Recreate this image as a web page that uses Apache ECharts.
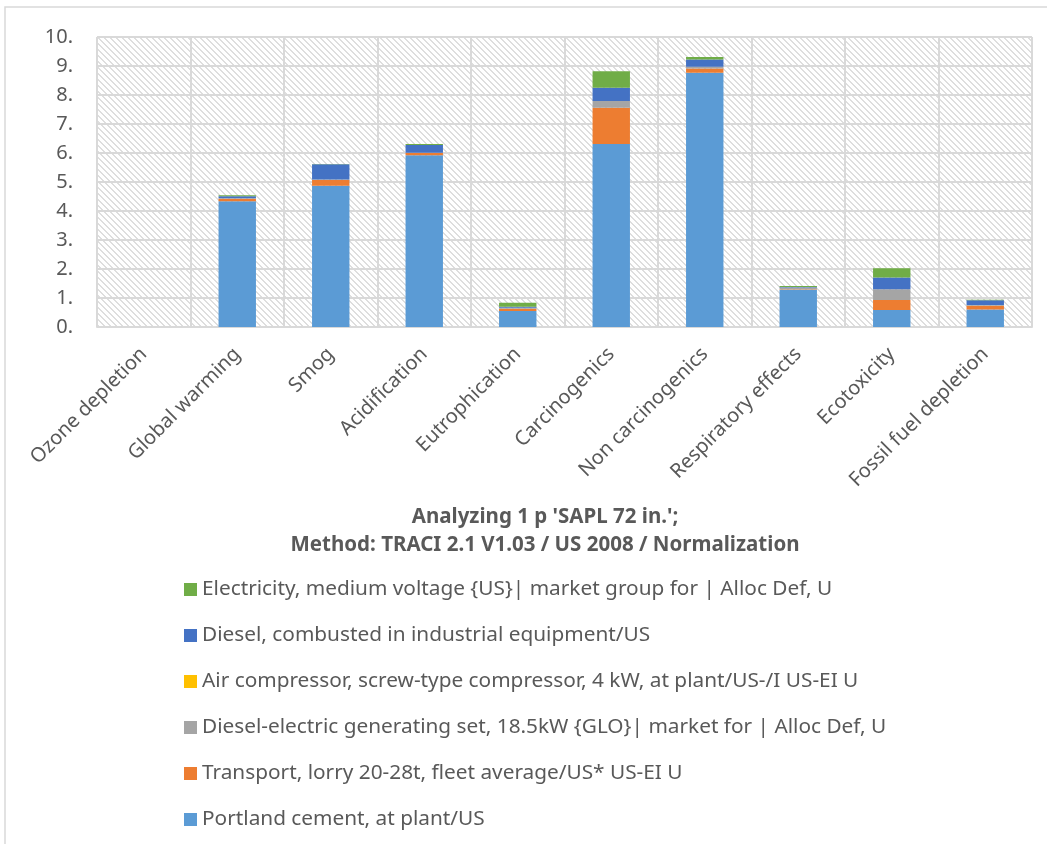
<!DOCTYPE html>
<html>
<head>
<meta charset="utf-8">
<script src="https://cdn.jsdelivr.net/npm/echarts@6/dist/echarts.min.js"></script>
<style>
  html, body { margin: 0; padding: 0; background: #fff; }
  #chart { width: 1047px; height: 844px; }
</style>
</head>
<body>
<div id="chart"></div>
<script>
// Impact categories (x axis)
const categories = [
  'Ozone depletion', 'Global warming', 'Smog', 'Acidification', 'Eutrophication',
  'Carcinogenics', 'Non carcinogenics', 'Respiratory effects', 'Ecotoxicity', 'Fossil fuel depletion'
];

// Normalized contributions per process, stacked bottom to top
const portlandCement   = [0.002, 4.34, 4.87, 5.92, 0.55, 6.31, 8.77, 1.28, 0.59, 0.60];
const transportLorry   = [0, 0.08, 0.20, 0.08, 0.08, 1.25, 0.14, 0.01, 0.34, 0.13];
const dieselGenSet     = [0, 0.02, 0.02, 0.01, 0.03, 0.23, 0.06, 0.07, 0.37, 0.03];
const airCompressor    = [0, 0, 0, 0, 0, 0, 0, 0, 0, 0];
const dieselCombusted  = [0, 0.07, 0.52, 0.27, 0.04, 0.46, 0.25, 0.02, 0.41, 0.16];
const electricityMV    = [0, 0.03, 0.01, 0.03, 0.14, 0.57, 0.09, 0.03, 0.32, 0.02];

// Y axis tick values
const yTicks = [0, 1, 2, 3, 4, 5, 6, 7, 8, 9, 10];

const seriesNames = {
  portland: 'Portland cement, at plant/US',
  transport: 'Transport, lorry 20-28t, fleet average/US* US-EI U',
  genset: 'Diesel-electric generating set, 18.5kW {GLO}| market for | Alloc Def, U',
  compressor: 'Air compressor, screw-type compressor, 4 kW, at plant/US-/I US-EI U',
  diesel: 'Diesel, combusted in industrial equipment/US',
  electricity: 'Electricity, medium voltage {US}| market group for | Alloc Def, U'
};

const titleLines = [
  "Analyzing 1 p 'SAPL 72 in.';",
  'Method: TRACI 2.1 V1.03 / US 2008 / Normalization'
];

// Diagonal hatch used as the plot-area background
function hatchPattern() {
  const c = document.createElement('canvas');
  const n = 6;
  c.width = n; c.height = n;
  const ctx = c.getContext('2d');
  ctx.fillStyle = '#ffffff';
  ctx.fillRect(0, 0, n, n);
  ctx.fillStyle = '#dedede';
  for (let i = 0; i < n; i++) {
    ctx.fillRect(i, i, 1, 1);
    ctx.fillRect((i + 1) % n, i, 1, 1);
  }
  return { image: c, repeat: 'repeat' };
}

const FONT = "'Noto Sans', sans-serif";
const TEXT = '#595959';
const GRID_LINE = '#d9d9d9';

function bar(name, data, color) {
  return {
    name: name,
    type: 'bar',
    stack: 'total',
    data: data,
    barWidth: '40%',
    itemStyle: { color: color },
    emphasis: { disabled: true }
  };
}

const chart = echarts.init(document.getElementById('chart'));
chart.setOption({
  animation: false,
  backgroundColor: '#ffffff',
  textStyle: { fontFamily: FONT },
  graphic: [
    {
      type: 'rect',
      shape: { x: 5, y: 7, width: 1100, height: 900 },
      style: { fill: 'none', stroke: GRID_LINE, lineWidth: 1.5 },
      silent: true,
      z: -10
    },
    {
      type: 'text',
      x: 545,
      y: 503,
      style: {
        text: titleLines.join('\n'),
        fill: TEXT,
        font: "bold 20.5px " + FONT,
        lineHeight: 28,
        align: 'center',
        verticalAlign: 'top'
      },
      silent: true
    }
  ],
  grid: {
    left: 97, right: 15, top: 37, bottom: 517,
    show: true,
    backgroundColor: hatchPattern(),
    borderWidth: 0
  },
  legend: {
    orient: 'vertical',
    left: 184,
    top: 579,
    padding: 0,
    itemWidth: 13,
    itemHeight: 13,
    itemGap: 25,
    icon: 'rect',
    selectedMode: false,
    textStyle: { color: TEXT, fontSize: 20.8, lineHeight: 20, fontFamily: FONT },
    data: [
      seriesNames.electricity, seriesNames.diesel, seriesNames.compressor,
      seriesNames.genset, seriesNames.transport, seriesNames.portland
    ]
  },
  xAxis: {
    type: 'category',
    data: categories,
    axisLine: { show: true, lineStyle: { color: GRID_LINE, width: 2 } },
    axisTick: { show: false },
    splitLine: { show: true, lineStyle: { color: GRID_LINE, width: 2 } },
    axisLabel: {
      interval: 0,
      rotate: 45,
      margin: 24,
      color: TEXT,
      fontSize: 20,
      fontFamily: FONT
    }
  },
  yAxis: {
    type: 'value',
    min: yTicks[0],
    max: yTicks[yTicks.length - 1],
    interval: 1,
    axisLine: { show: false },
    axisTick: { show: false },
    splitLine: { show: true, lineStyle: { color: GRID_LINE, width: 2 } },
    axisLabel: {
      color: TEXT,
      fontSize: 20,
      margin: 24,
      fontFamily: FONT,
      formatter: function (v) { return v + '.'; }
    }
  },
  series: [
    bar(seriesNames.portland, portlandCement, '#5b9bd5'),
    bar(seriesNames.transport, transportLorry, '#ed7d31'),
    bar(seriesNames.genset, dieselGenSet, '#a5a5a5'),
    bar(seriesNames.compressor, airCompressor, '#ffc000'),
    bar(seriesNames.diesel, dieselCombusted, '#4472c4'),
    bar(seriesNames.electricity, electricityMV, '#70ad47')
  ]
});
</script>
</body>
</html>
